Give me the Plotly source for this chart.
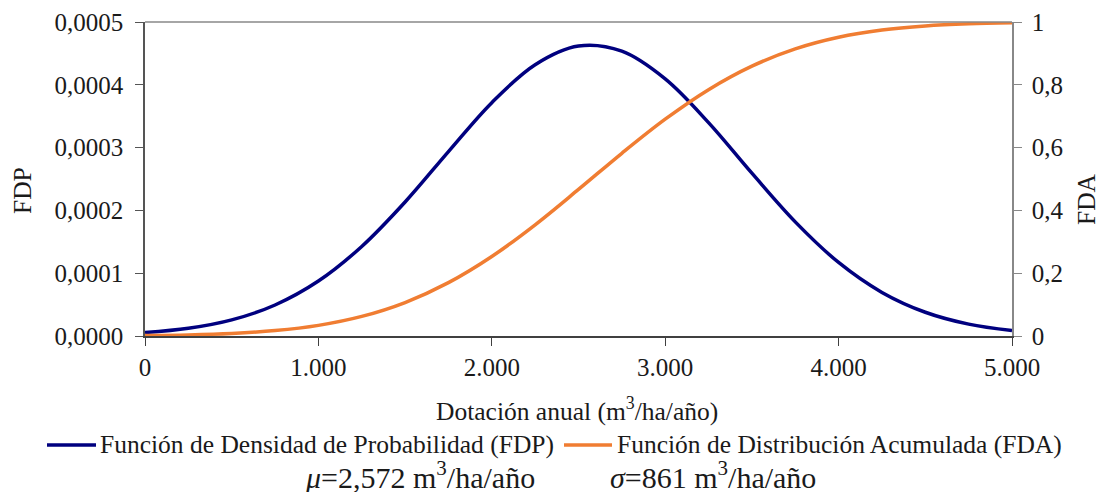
import plotly.graph_objects as go

# Values
dotacion = [0, 250, 500, 750, 1000, 1250, 1500, 1750, 2000, 2250, 2500,
            2750, 3000, 3250, 3500, 3750, 4000, 4250, 4500, 4750, 5000]
fdp = [0.0000054, 0.0000122, 0.0000256, 0.0000494, 0.0000875, 0.0001426, 0.0002134,
       0.0002937, 0.0003716, 0.000432, 0.0004617, 0.0004535, 0.0004094,
       0.0003398, 0.0002592, 0.0001817, 0.0001171, 0.0000694, 0.0000378, 0.0000189,
       0.0000087]
fda = [0.0014, 0.0035, 0.0081, 0.0172, 0.0339, 0.0624, 0.1066, 0.1699, 0.2532,
       0.3542, 0.4667, 0.5819, 0.6904, 0.7845, 0.8594, 0.9144, 0.9514, 0.9743,
       0.9874, 0.9943, 0.9976]

x_ticks = [0, 1000, 2000, 3000, 4000, 5000]
x_ticklabels = ["0", "1.000", "2.000", "3.000", "4.000", "5.000"]
y1_ticks = [0, 0.0001, 0.0002, 0.0003, 0.0004, 0.0005]
y1_ticklabels = ["0,0000", "0,0001", "0,0002", "0,0003", "0,0004", "0,0005"]
y2_ticks = [0, 0.2, 0.4, 0.6, 0.8, 1]
y2_ticklabels = ["0", "0,2", "0,4", "0,6", "0,8", "1"]

series_names = ["Función de Densidad de Probabilidad (FDP)",
                "Función de Distribución Acumulada (FDA)"]
series_colors = ["#00007F", "#F07D32"]

FONT = "Liberation Serif, Times New Roman, serif"
OFF = 8  # page body margin offset
L, R, T, B = 145, 1012, 22, 336   # plot area in screenshot pixels
W, H = 1108 - 2 * OFF, 500 - 2 * OFF


def px(sx):
    return (sx - L) / (R - L)


def py(sy):
    return (B - sy) / (B - T)


fig = go.Figure()
fig.add_trace(go.Scatter(x=dotacion, y=fdp, mode="lines", line_shape="spline",
                         line=dict(color=series_colors[0], width=3.5),
                         name=series_names[0], showlegend=False))
fig.add_trace(go.Scatter(x=dotacion, y=fda, mode="lines", line_shape="spline",
                         line=dict(color=series_colors[1], width=3.5), yaxis="y2",
                         name=series_names[1], showlegend=False))

axis_common = dict(showgrid=False, zeroline=False, showline=True, linewidth=1.5,
                   ticks="outside", ticklen=8, automargin=False)

shapes = [dict(type="line", xref="paper", yref="paper", x0=0, x1=1, y0=1, y1=1,
               line=dict(color="#888888", width=1.5))]
annotations = []

# manual legend
legend_line_x = [(47, 96), (564, 612)]
legend_text_x = [98, 615]
for (x0, x1), tx, name, col in zip(legend_line_x, legend_text_x, series_names, series_colors):
    shapes.append(dict(type="line", xref="paper", yref="paper", x0=px(x0), x1=px(x1),
                       y0=py(445), y1=py(445), line=dict(color=col, width=3.5)))
    annotations.append(dict(text=name, xref="paper", yref="paper", x=px(tx), y=py(444),
                            xanchor="left", yanchor="middle", showarrow=False,
                            font=dict(size=25.5)))

# axis titles
annotations += [
    dict(text="Dotación anual (m<sup>3</sup>/ha/año)", xref="paper", yref="paper",
         x=px(577), y=py(409), xanchor="center", yanchor="middle", showarrow=False,
         font=dict(size=25.5)),
    dict(text="FDP", xref="paper", yref="paper", x=px(22), y=py(190), textangle=-90,
         xanchor="center", yanchor="middle", showarrow=False, font=dict(size=25.5)),
    dict(text="FDA", xref="paper", yref="paper", x=px(1086), y=py(199), textangle=-90,
         xanchor="center", yanchor="middle", showarrow=False, font=dict(size=25.5)),
    dict(text="<i>μ</i>=2,572 m<sup>3</sup>/ha/año", xref="paper", yref="paper",
         x=px(420), y=py(475), xanchor="center", yanchor="middle", showarrow=False,
         font=dict(size=30)),
    dict(text="<i>σ</i>=861 m<sup>3</sup>/ha/año", xref="paper", yref="paper",
         x=px(713), y=py(475), xanchor="center", yanchor="middle", showarrow=False,
         font=dict(size=30)),
]

fig.update_layout(
    width=W, height=H,
    margin=dict(l=L - OFF, r=W - (R - OFF), t=T - OFF, b=H - (B - OFF), autoexpand=False),
    paper_bgcolor="white", plot_bgcolor="white",
    font=dict(family=FONT, size=25, color="#1a1a1a"),
    showlegend=False,
    xaxis=dict(range=[0, 5000], tickvals=x_ticks, ticktext=x_ticklabels,
               linecolor="#404040", tickcolor="#404040", **axis_common),
    yaxis=dict(range=[0, 0.0005], tickvals=y1_ticks, ticktext=y1_ticklabels,
               linecolor="#555555", tickcolor="#555555", ticklabelstandoff=7,
               **axis_common),
    yaxis2=dict(range=[0, 1], tickvals=y2_ticks, ticktext=y2_ticklabels,
                overlaying="y", side="right", linecolor="#888888", tickcolor="#888888",
                ticklabelstandoff=5, **axis_common),
    shapes=shapes,
    annotations=annotations,
)

fig.write_html("out.html")
